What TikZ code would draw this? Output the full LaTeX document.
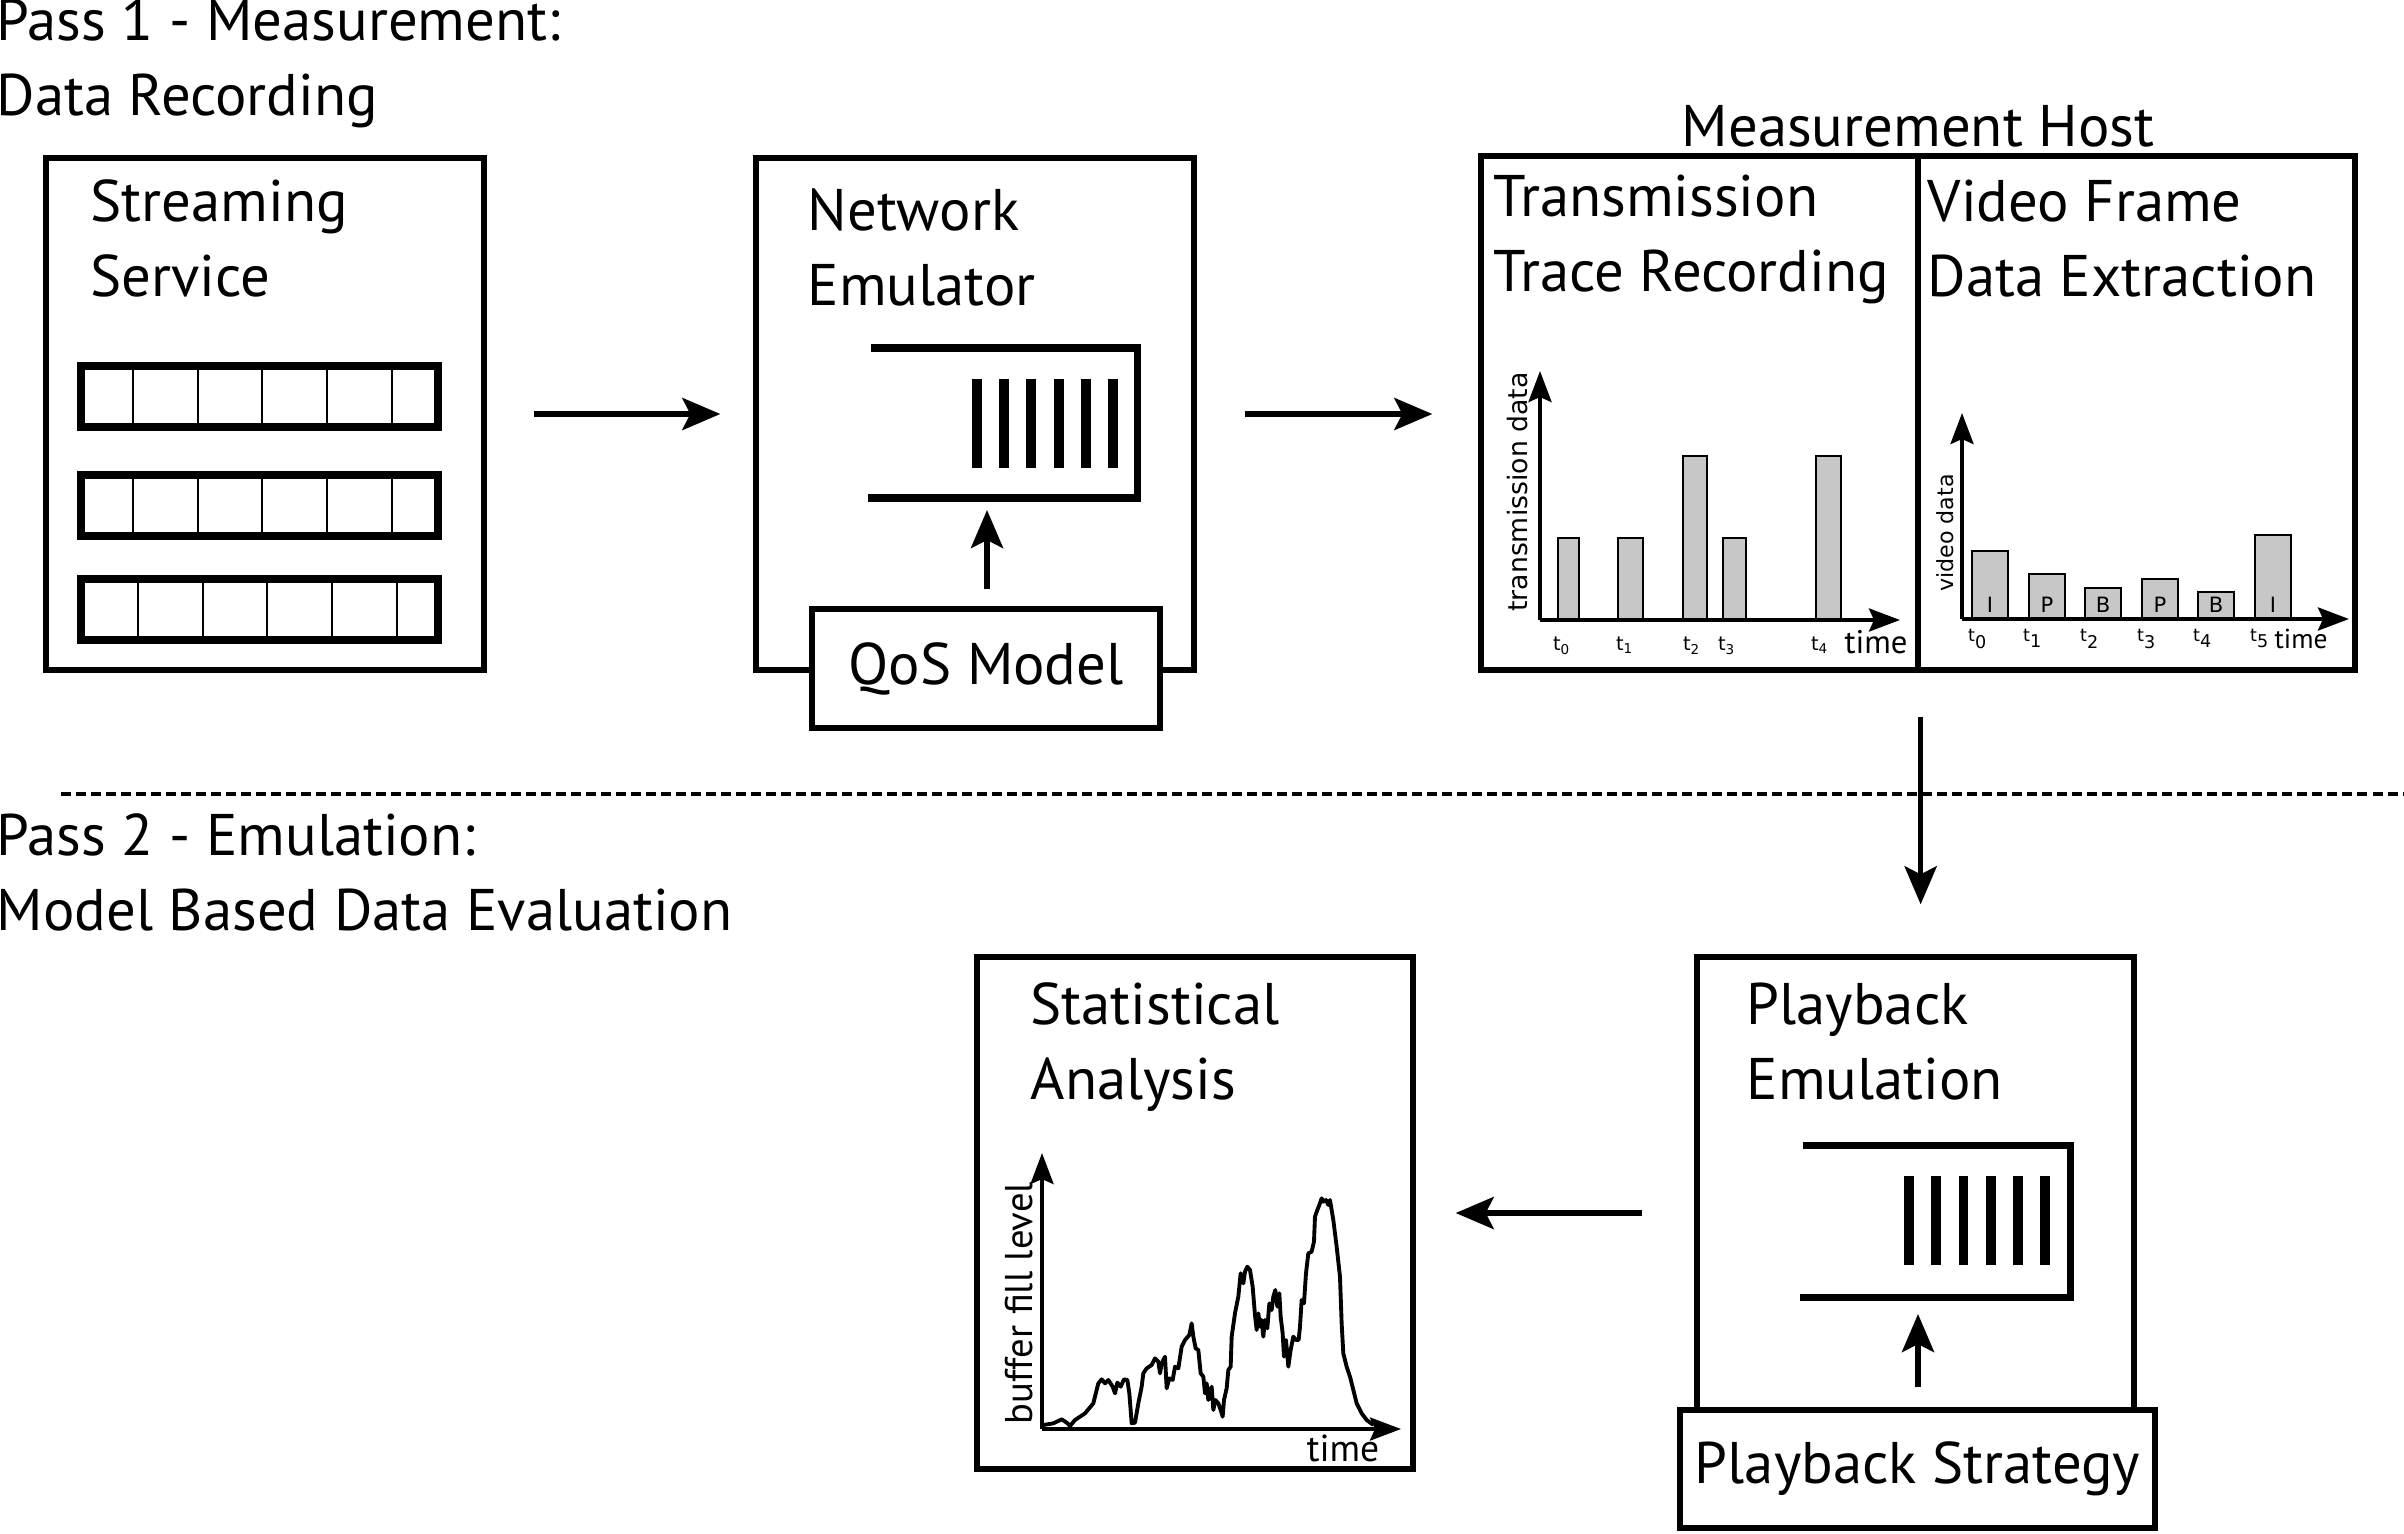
\documentclass[tikz,border=0pt]{standalone}
\usepackage{fontspec}
\setmainfont{PT Sans}
\newfontfamily\chartfont{DejaVu Sans}
\usetikzlibrary{fit,arrows.meta}

\begin{document}
\begin{tikzpicture}[x=0.01cm,y=-0.01cm,
  box/.style={draw=black,line width=1.5pt,inner sep=0pt},
  box title/.style={anchor=base west,align=left,inner sep=0pt,font=\fontsize{16.7}{21.2}\selectfont},
  flow/.style={line width=1.6pt,-{Stealth[length=3.8mm,width=3.2mm,inset=0.8mm]}},
  axis/.style={line width=1.1pt,-{Stealth[length=3.1mm,width=2.3mm,inset=0.5mm]}},
  bar/.style={draw=black,line width=0.4pt,fill=black!22},
  queue/.style={line width=2pt},
  packet/.style={line width=2.8pt},
  tick/.style={anchor=base,inner sep=0pt,font=\chartfont\fontsize{5.5}{6}\selectfont}]
\useasboundingbox (0,0) rectangle (2404,1533);
% the base of a two-line title is its second line
\node[box title] (pass-1) at (-4,115) {Pass 1 - Measurement:\\Data Recording};
\node[box title] (pass-2) at (-4,930) {Pass 2 - Emulation:\\Model Based Data Evaluation};
\draw[line width=1pt,dash pattern=on 0.1cm off 0.05cm] (61,794) coordinate (pass-split-0) -- (2404,794) coordinate (pass-split-1);
% streaming service
\node[box,fit={(46,158) (484,670)}] (box-streaming) {};
\node[box title] (title-streaming) at (90,296) {Streaming\\Service};
\foreach \row/\top/\dx in {1/366/0,2/475/0,3/579/5} {
  \draw[line width=0.6pt] \foreach \cx in {133,198,262,327,392} {(\cx+\dx,\top) -- (\cx+\dx,\top+61)};
  \node[draw,line width=2.5pt,inner sep=0pt,fit={(81,\top) (438,\top+61)}] (row-\row) {};
}
% network emulator
\node[box,fit={(756,158) (1194,670)}] (box-emulator) {};
\node[box title] (title-emulator) at (807,305) {Network\\Emulator};
\draw[queue] (871,348) -- (1137,348) -- (1137,498) -- (868,498);
\foreach \i in {0,...,5} \draw[packet] (977+27.2*\i,379) -- (977+27.2*\i,468);
\coordinate (queue-net-in) at (987,498);
\node[box,fill=white,fit={(812,609) (1160,728)}] (box-qos) {};
\node[font=\fontsize{16.7}{21.2}\selectfont] (title-qos) at (box-qos.center) {QoS Model};
% measurement host
\node[anchor=base,inner sep=0pt,font=\fontsize{16.7}{21.2}\selectfont] (title-host) at (1918,146) {Measurement Host};
\node[box,fit={(1481,156) (1918,670)}] (box-trace) {};
\node[box,fit={(1918,156) (2355,670)}] (box-frame) {};
\node[box title] (title-trace) at (1493,291) {Transmission\\Trace Recording};
\node[box title] (title-frame) at (1927,296) {Video Frame\\Data Extraction};
% transmission trace chart
\coordinate (trace-origin) at (1540,620);
\foreach \l/\r/\t in {1558/1579/538,1618/1643/538,1683/1707/456,1723/1746/538,1816/1841/456}
  \draw[bar] (\l,620) rectangle (\r,\t);
\draw[axis] (trace-origin) -- (1540,371);
\draw[axis] (trace-origin) -- (1900,620);
\node[rotate=90,inner sep=0pt,font=\chartfont\fontsize{7.6}{9}\selectfont] (trace-ylabel) at (1518,492) {transmission data};
\foreach \x/\k in {1562/0,1625/1,1692/2,1727/3,1820/4}
  \node[tick] (trace-tick-\k) at (\x,650) {t\textsubscript{\k}};
\node[anchor=base,inner sep=0pt,font=\fontsize{9.3}{11}\selectfont] (trace-xlabel) at (1876,653) {time};
% video frame chart
\coordinate (frame-origin) at (1962,619);
\foreach \l/\t/\f in {1972/551/I,2029/574/P,2085/588/B,2142/579/P,2198/592/B,2255/535/I} {
  \draw[bar] (\l,619) rectangle (\l+36,\t);
  \node[inner sep=0pt,font=\chartfont\fontsize{6}{7}\selectfont] at (\l+18,605) {\f};
}
\draw[axis] (frame-origin) -- (1962,413);
\draw[axis] (frame-origin) -- (2349,619);
\node[rotate=90,inner sep=0pt,font=\chartfont\fontsize{6.3}{8}\selectfont] (frame-ylabel) at (1945,533) {video data};
\foreach \x/\k in {1978/0,2033/1,2090/2,2147/3,2203/4,2260/5}
  \node[tick,font=\chartfont\fontsize{5}{6}\selectfont] (frame-tick-\k) at (\x,641) {t\textsubscript{\k}};
\node[anchor=base,inner sep=0pt,font=\fontsize{7.8}{9}\selectfont] (frame-xlabel) at (2301,648) {time};
% playback emulation
\node[box,fit={(1697,957) (2134,1410)}] (box-playback) {};
\node[box title] (title-playback) at (1746,1099) {Playback\\Emulation};
\draw[queue] (1803,1145) -- (2070,1145) -- (2070,1297) -- (1800,1297);
\foreach \i in {0,...,5} \draw[packet] (1909+27.2*\i,1176) -- (1909+27.2*\i,1265);
\coordinate (queue-play-in) at (1918,1297);
\node[box,fill=white,fit={(1680,1410) (2155,1528)}] (box-strategy) {};
\node[font=\fontsize{16.7}{21.2}\selectfont] (title-strategy) at (box-strategy.center) {Playback Strategy};
% statistical analysis
\node[box,fit={(977,957) (1413,1469)}] (box-stats) {};
\node[box title] (title-stats) at (1030,1099) {Statistical\\Analysis};
\coordinate (stats-origin) at (1042,1429);
\begin{scope}[shift={(1030,1140)},scale=0.3333]
\draw[line width=1.1pt,line join=round] (40,855) -- (70,850) -- (95,838) -- (110,848) -- (120,858) -- (135,840) -- (165,820) -- (190,790) -- (205,730) -- (215,718) -- (225,730) -- (235,720) -- (248,740) -- (255,760) -- (262,728) -- (272,740) -- (282,718) -- (292,720) -- (298,760) -- (305,850) -- (315,848) -- (325,790) -- (335,740) -- (340,700) -- (350,685) -- (365,675) -- (375,655) -- (385,665) -- (390,700) -- (395,670) -- (405,650) -- (410,745) -- (418,715) -- (428,720) -- (435,680) -- (445,685) -- (455,620) -- (465,600) -- (478,585) -- (485,550) -- (490,590) -- (497,625) -- (505,630) -- (512,700) -- (520,710) -- (525,760) -- (530,730) -- (535,780) -- (545,740) -- (550,810) -- (556,780) -- (565,790) -- (572,810) -- (578,830) -- (582,780) -- (590,745) -- (595,690) -- (602,680) -- (605,590) -- (615,520) -- (625,470) -- (632,400) -- (640,430) -- (645,395) -- (652,380) -- (660,390) -- (668,440) -- (675,525) -- (680,570) -- (685,520) -- (690,560) -- (695,540) -- (700,590) -- (705,540) -- (712,565) -- (718,490) -- (725,510) -- (730,470) -- (736,450) -- (742,500) -- (748,460) -- (752,530) -- (758,580) -- (762,650) -- (768,600) -- (775,680) -- (782,630) -- (790,590) -- (798,600) -- (806,600) -- (810,560) -- (815,480) -- (822,490) -- (828,400) -- (835,340) -- (845,335) -- (852,305) -- (855,230) -- (862,210) -- (868,195) -- (875,175) -- (880,185) -- (888,180) -- (895,195) -- (900,180) -- (910,240) -- (920,320) -- (930,410) -- (935,550) -- (940,640) -- (950,680) -- (960,710) -- (970,750) -- (980,790) -- (995,820) -- (1010,840) -- (1030,855);
\end{scope}
\draw[axis] (stats-origin) -- (1042,1153);
\draw[axis] (stats-origin) -- (1401,1429);
\node[rotate=90,inner sep=0pt,font=\fontsize{11}{13}\selectfont] (stats-ylabel) at (1019,1303) {buffer fill level};
\node[anchor=base,inner sep=0pt,font=\fontsize{10.7}{12}\selectfont] (stats-xlabel) at (1343,1461) {time};
% connectors
\draw[flow,shorten <=0.47cm,shorten >=0.33cm] (box-streaming) -- (box-emulator);
\draw[flow,shorten <=0.48cm,shorten >=0.46cm] (box-emulator.east) -- (box-emulator.east -| box-trace.west);
\draw[flow,shorten <=0.17cm,shorten >=0.12cm] (queue-net-in |- box-qos.north) -- (queue-net-in);
\draw[flow,shorten <=0.44cm,shorten >=0.5cm] (box-trace.south east) -- (box-trace.south east |- box-playback.north);
\draw[flow,shorten <=0.2cm,shorten >=0.17cm] (queue-play-in |- box-strategy.north) -- (queue-play-in);
\draw[flow,shorten <=0.52cm,shorten >=0.4cm] (box-playback.west |- box-stats.east) -- (box-stats.east);
\end{tikzpicture}
\end{document}
